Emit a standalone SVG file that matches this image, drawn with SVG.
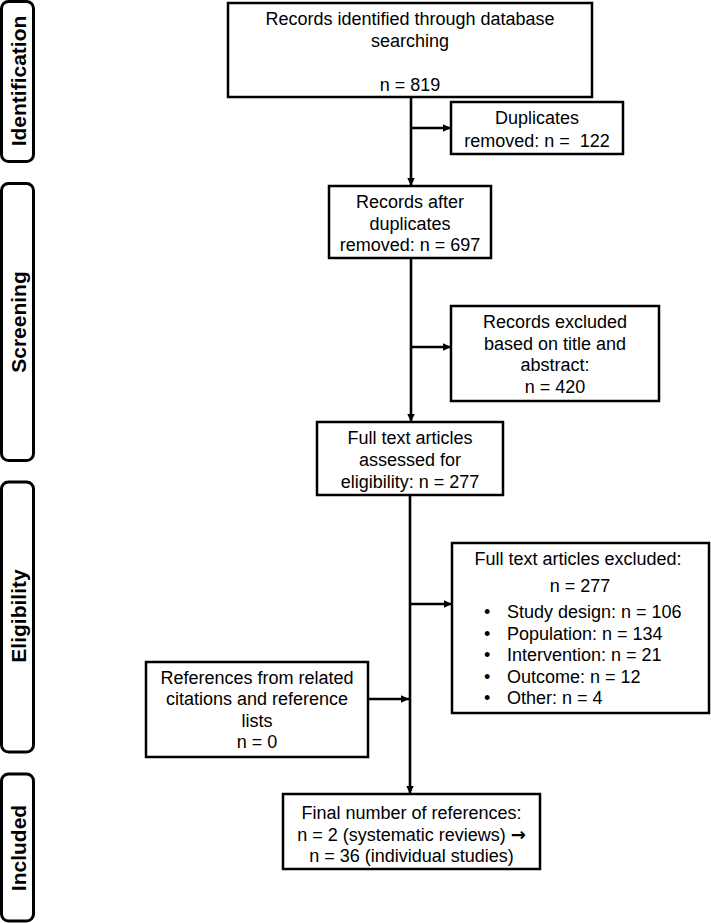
<svg xmlns="http://www.w3.org/2000/svg" width="711" height="923" viewBox="0 0 711 923">
<style>
.box{fill:#fff;stroke:#000;stroke-width:2.5}
.side{fill:#fff;stroke:#000;stroke-width:3}
.t{font-family:"Liberation Sans",Arial,sans-serif;font-size:18px;fill:#000}
.c{text-anchor:middle}
.arr{font-family:"DejaVu Sans",sans-serif;font-weight:bold}
.lab{font-family:"Liberation Sans",Arial,sans-serif;font-size:21px;font-weight:bold;fill:#000;text-anchor:middle}
.ln{stroke:#000;stroke-width:2.6;fill:none}
</style>
<defs>
<marker id="ah" markerUnits="userSpaceOnUse" markerWidth="9" markerHeight="9" refX="8" refY="4.5" orient="auto">
<path d="M0,0.8 L8,4.5 L0,8.2 Z" fill="#000"/>
</marker>
</defs>
<rect width="711" height="923" fill="#fff"/>
<g id="phase-identification">
<rect class="side" x="1.5" y="1.5" width="32" height="160" rx="7"/>
<text class="lab" transform="translate(26,81) rotate(-90)">Identification</text>
</g>
<g id="phase-screening">
<rect class="side" x="1.5" y="183.5" width="32" height="277" rx="7"/>
<text class="lab" transform="translate(26,322) rotate(-90)">Screening</text>
</g>
<g id="phase-eligibility">
<rect class="side" x="1.5" y="482" width="32" height="270" rx="7"/>
<text class="lab" transform="translate(26,616) rotate(-90)">Eligibility</text>
</g>
<g id="phase-included">
<rect class="side" x="1.5" y="774" width="32" height="147" rx="7"/>
<text class="lab" transform="translate(26,848) rotate(-90)">Included</text>
</g>
<g id="connectors">
<line class="ln" x1="411" y1="97" x2="411" y2="186" marker-end="url(#ah)"/>
<line class="ln" x1="411" y1="128" x2="451" y2="128" marker-end="url(#ah)"/>
<line class="ln" x1="411" y1="258" x2="411" y2="422" marker-end="url(#ah)"/>
<line class="ln" x1="411" y1="347" x2="451" y2="347" marker-end="url(#ah)"/>
<line class="ln" x1="410" y1="495" x2="410" y2="794" marker-end="url(#ah)"/>
<line class="ln" x1="410" y1="604" x2="452" y2="604" marker-end="url(#ah)"/>
<line class="ln" x1="368" y1="699" x2="409" y2="699" marker-end="url(#ah)"/>
</g>
<g id="records-identified">
<rect class="box" x="228" y="3" width="364" height="94"/>
<text class="t c" x="410" y="25">Records identified through database</text>
<text class="t c" x="410" y="47">searching</text>
<text class="t c" x="410" y="91">n = 819</text>
</g>
<g id="duplicates-removed">
<rect class="box" x="451" y="102" width="172" height="52"/>
<text class="t c" x="537" y="124">Duplicates</text>
<text class="t c" x="537" y="147" xml:space="preserve">removed: n =  122</text>
</g>
<g id="records-after-duplicates">
<rect class="box" x="329" y="186" width="162" height="72"/>
<text class="t c" x="410" y="208">Records after</text>
<text class="t c" x="410" y="229.5">duplicates</text>
<text class="t c" x="410" y="251">removed: n = 697</text>
</g>
<g id="records-excluded">
<rect class="box" x="451" y="306" width="208" height="95"/>
<text class="t c" x="555" y="328">Records excluded</text>
<text class="t c" x="555" y="349.5">based on title and</text>
<text class="t c" x="555" y="371">abstract:</text>
<text class="t c" x="555" y="392.5">n = 420</text>
</g>
<g id="full-text-assessed">
<rect class="box" x="317" y="422" width="186" height="73"/>
<text class="t c" x="410" y="444">Full text articles</text>
<text class="t c" x="410" y="466">assessed for</text>
<text class="t c" x="410" y="487.5">eligibility: n = 277</text>
</g>
<g id="full-text-excluded">
<rect class="box" x="452" y="543" width="257" height="170"/>
<text class="t c" x="578" y="565">Full text articles excluded:</text>
<text class="t c" x="580" y="591.5">n = 277</text>
<text class="t" x="484" y="618">•</text>
<text class="t" x="507" y="618">Study design: n = 106</text>
<text class="t" x="484" y="639.5">•</text>
<text class="t" x="507" y="639.5">Population: n = 134</text>
<text class="t" x="484" y="661">•</text>
<text class="t" x="507" y="661">Intervention: n = 21</text>
<text class="t" x="484" y="682.5">•</text>
<text class="t" x="507" y="682.5">Outcome: n = 12</text>
<text class="t" x="484" y="704">•</text>
<text class="t" x="507" y="704">Other: n = 4</text>
</g>
<g id="references-related">
<rect class="box" x="146" y="662" width="222" height="95"/>
<text class="t c" x="257" y="683.5">References from related</text>
<text class="t c" x="257" y="705">citations and reference</text>
<text class="t c" x="257" y="726.5">lists</text>
<text class="t c" x="257" y="748">n = 0</text>
</g>
<g id="final-references">
<rect class="box" x="283" y="794" width="257" height="75"/>
<text class="t c" x="411.5" y="819">Final number of references:</text>
<text class="t c" x="411.5" y="840.5">n = 2 (systematic reviews) <tspan class="arr">→</tspan></text>
<text class="t c" x="411.5" y="862">n = 36 (individual studies)</text>
</g>
</svg>
